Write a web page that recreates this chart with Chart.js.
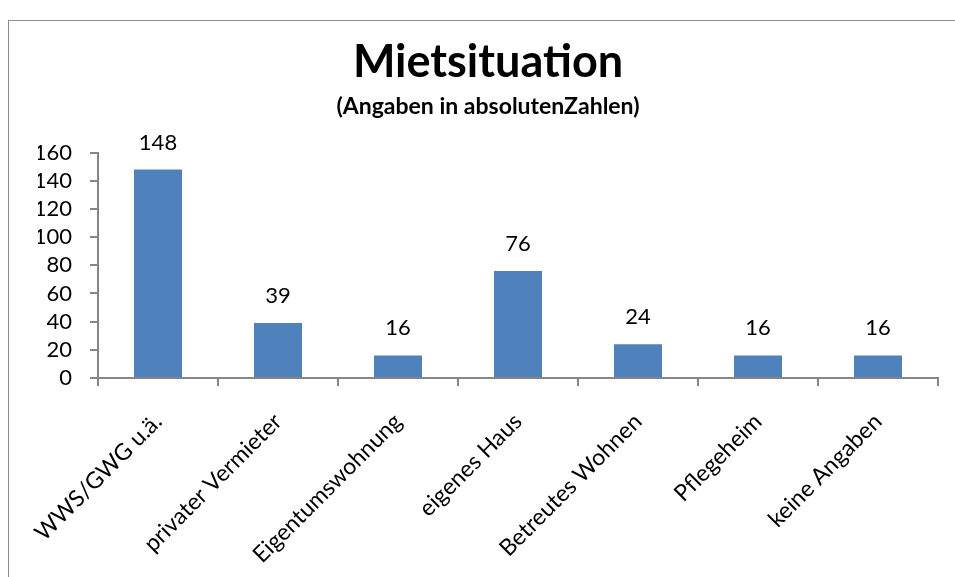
<!DOCTYPE html>
<html>
<head>
<meta charset="utf-8">
<script src="https://cdn.jsdelivr.net/npm/chart.js@4"></script>
<style>
  html, body { margin: 0; padding: 0; background: #fff; overflow: hidden; }
  #rahmen { position: absolute; left: 8px; top: 20px; width: 1000px; height: 600px; border: 1px solid #8c8c8c; }
  #wrap { position: absolute; left: 0; top: 0; width: 976px; height: 577px; }
</style>
</head>
<body>
<div id="rahmen"></div>
<div id="wrap"><canvas id="chart"></canvas></div>
<script>
  // Mietsituation - Werte
  const kategorien = ['WWS/GWG u.ä.', 'privater Vermieter', 'Eigentumswohnung', 'eigenes Haus',
    'Betreutes Wohnen', 'Pflegeheim', 'keine Angaben'];
  const anzahl = [148, 39, 16, 76, 24, 16, 16];
  const yTicks = [0, 20, 40, 60, 80, 100, 120, 140, 160];

  const BLAU = '#4F81BD';
  const GRAU = '#868686';
  const SCHRIFT = 'Lato, "Open Sans", sans-serif';

  // Zahlen ueber den Balken
  const wertLabels = {
    id: 'wertLabels',
    afterDatasetsDraw(chart) {
      const ctx = chart.ctx;
      const meta = chart.getDatasetMeta(0);
      ctx.save();
      ctx.font = '22px ' + SCHRIFT;
      ctx.fillStyle = '#000';
      ctx.textAlign = 'center';
      ctx.textBaseline = 'alphabetic';
      meta.data.forEach((bar, i) => {
        ctx.fillText(String(anzahl[i]), bar.x, bar.y - 20);
      });
      ctx.restore();
    }
  };

  new Chart(document.getElementById('chart'), {
    type: 'bar',
    data: {
      labels: kategorien,
      datasets: [{ data: anzahl, backgroundColor: BLAU, barPercentage: 0.4, categoryPercentage: 1 }]
    },
    options: {
      responsive: true,
      maintainAspectRatio: false,
      animation: false,
      layout: { padding: { left: 38, right: 38, top: 0, bottom: 0 } },
      plugins: {
        legend: { display: false },
        tooltip: { enabled: false },
        title: {
          display: true, text: 'Mietsituation', color: '#000',
          font: { family: SCHRIFT, size: 45, weight: 'bold', lineHeight: 1.2 },
          padding: { top: 35, bottom: 0 }
        },
        subtitle: {
          display: true, text: '(Angaben in absolutenZahlen)', color: '#000',
          font: { family: SCHRIFT, size: 23, weight: 'bold', lineHeight: 1.2 },
          padding: { top: 4, bottom: 32 }
        }
      },
      scales: {
        x: {
          afterFit: s => { s.height = 199; },
          grid: { display: true, drawOnChartArea: false, offset: true, tickLength: 8, color: GRAU, lineWidth: 2 },
          border: { color: GRAU, width: 2 },
          ticks: {
            color: '#000', font: { family: SCHRIFT, size: 23 },
            minRotation: 45, maxRotation: 45, padding: 22, autoSkip: false
          }
        },
        y: {
          min: 0, max: 160,
          afterFit: s => { s.width = 60; },
          afterBuildTicks: s => { s.ticks = yTicks.map(v => ({ value: v })); },
          grid: { display: true, drawOnChartArea: false, tickLength: 8, color: GRAU, lineWidth: 2 },
          border: { color: GRAU, width: 2 },
          ticks: { color: '#000', font: { family: SCHRIFT, size: 22 }, padding: 18, autoSkip: false }
        }
      }
    },
    plugins: [wertLabels]
  });
</script>
</body>
</html>
